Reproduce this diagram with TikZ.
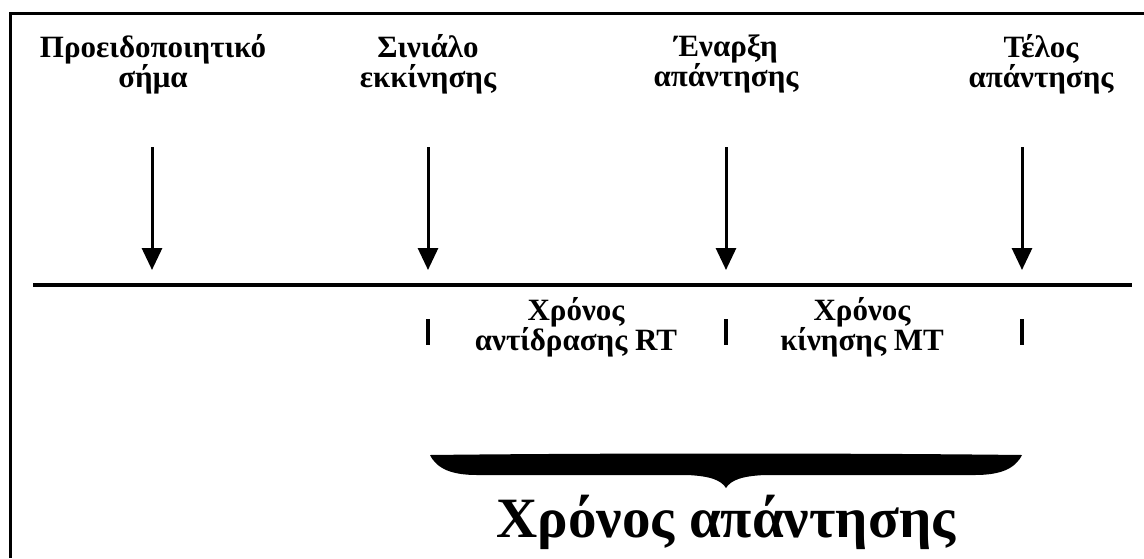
\documentclass[tikz,border=0pt]{standalone}
\usepackage{fontspec}
\setmainfont{Liberation Serif}
\usetikzlibrary{arrows.meta,positioning}

\begin{document}
\begin{tikzpicture}[x=1pt,y=-1pt,
	label text/.style={font=\bfseries\fontsize{31}{30}\selectfont,align=center,inner sep=0pt},
	event arrow/.style={line width=3pt,-{Triangle[width=20pt,length=22pt]}},
	tick mark/.style={line width=3.5pt}]
	% Keep the page the size of the reference.
	\useasboundingbox (0,0) rectangle (1144,558);

	% Frame: only its top and left edges are in view.
	\draw [line width=3pt] (10,558) -- (10,13) -- (1144,13);

	% Event labels along the top.
	\node [label text] (warn) at (153,64) {Προειδοποιητικό\\σήμα};
	\node [label text] (start) at (428,64) {Σινιάλο\\εκκίνησης};
	\node [label text] (onset) at (726,64) {Έναρξη\\απάντησης};
	\node [label text] (end) at (1041,64) {Τέλος\\απάντησης};

	% The time line.
	\coordinate (line west) at (33,285);
	\coordinate (line east) at (1132,285);
	\draw [line width=4pt] (line west) -- (line east);

	% One arrow per event, ending just above the line.
	\foreach \name/\x in {warn/152,start/428,onset/726,end/1022} {
		\coordinate (\name top) at (\x,147);
		\coordinate (\name tip) at (\x,270);
		\draw [event arrow] (\name top) -- (\name tip);
	}

	% Short marks below the line.
	\foreach \name/\x in {start/428,onset/726,end/1022} {
		\coordinate (\name mark top) at (\x,319);
		\coordinate (\name mark bottom) at (\x,345);
		\draw [tick mark] (\name mark top) -- (\name mark bottom);
	}

	% Interval labels between the marks.
	\node [label text] (rt) at (576,327) {Χρόνος\\αντίδρασης RT};
	\node [label text] (mt) at (862,327) {Χρόνος\\κίνησης MT};

	% Heavy brace over the whole response.
	\fill (430,455) .. controls (600,453) and (850,453) .. (1022,455)
		.. controls (1015,469) and (1000,475) .. (975,475) -- (765,475)
		.. controls (742,476) and (731,480) .. (726,488)
		.. controls (721,480) and (710,476) .. (687,475) -- (477,475)
		.. controls (452,475) and (437,469) .. (430,455) -- cycle;

	\node [label text, font=\bfseries\fontsize{57}{60}\selectfont] (resp) at (726,522) {Χρόνος απάντησης};
\end{tikzpicture}
\end{document}
